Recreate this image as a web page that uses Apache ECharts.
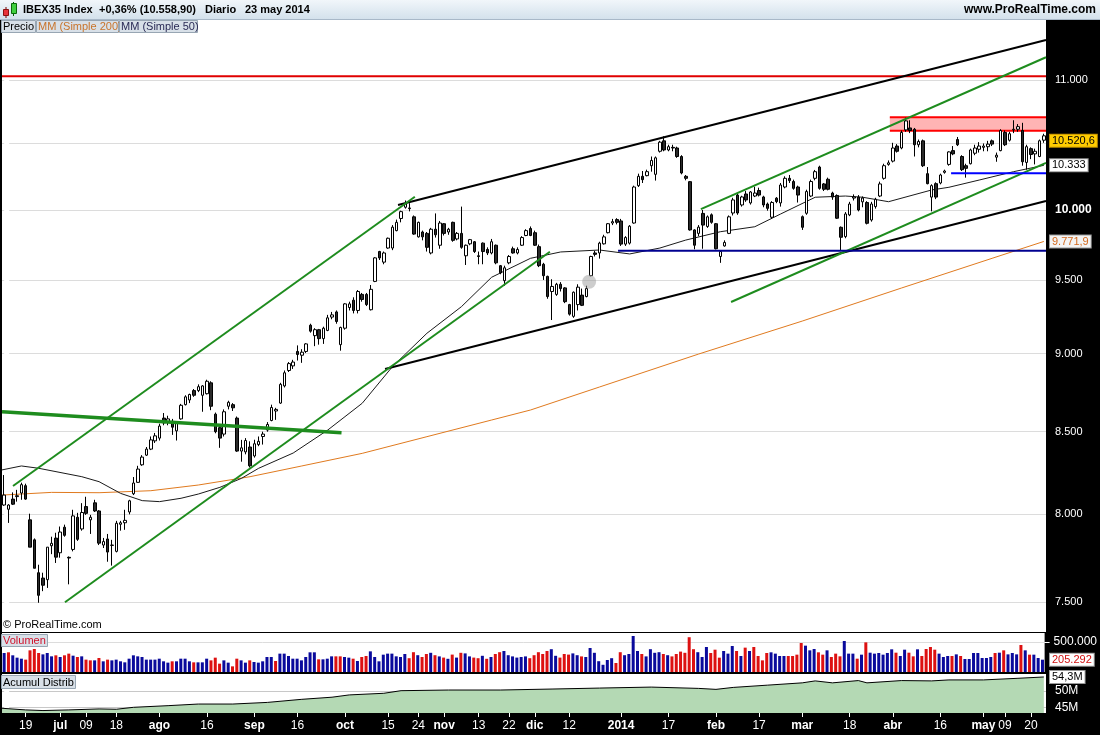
<!DOCTYPE html>
<html><head><meta charset="utf-8">
<script src="https://cdn.jsdelivr.net/npm/echarts@6/dist/echarts.min.js"></script>
<style>html,body{margin:0;padding:0;background:#fff}#c{width:1100px;height:735px}</style>
</head><body><div id="c"></div>
<script>
// ---------- categories: trading days 12 jun 2013 .. 23 may 2014 ----------
const holidays = ['2013-12-25','2013-12-26','2014-01-01','2014-04-18','2014-04-21','2014-05-01'];
const dates = [];
for (let t = Date.UTC(2013,5,12); t <= Date.UTC(2014,4,23); t += 86400000) {
  const d = new Date(t), wd = d.getUTCDay(), s = d.toISOString().slice(0,10);
  if (wd === 0 || wd === 6 || holidays.includes(s)) continue;
  dates.push(s);
}
// ---------- price data (IBEX35 daily) ----------
const openP = [8055,8030,8090,8105,8126,8170,7968,7852,7665,7635,
7626,7818,7862,7778,7925,7752,7797,7983,7915,8046,
7968,8068,8020,7822,7857,7820,7786,7942,7951,8014,
8122,8190,8296,8355,8392,8443,8460,8585,8560,8565,
8505,8580,8670,8700,8760,8760,8730,8740,8810,8610,
8525,8485,8660,8670,8585,8380,8375,8405,8350,8420,
8470,8510,8570,8630,8680,8790,8890,8920,9015,8990,
9015,9190,9120,9160,9100,9155,9245,9280,9060,9170,
9310,9360,9290,9400,9400,9295,9490,9700,9625,9725,
9725,9850,9938,10020,10010,9950,9805,9840,9830,9690,
9860,9745,9900,9840,9910,9790,9830,9670,9755,9770,
9670,9760,9715,9690,9745,9600,9495,9620,9720,9690,
9745,9815,9865,9835,9735,9610,9525,9420,9400,9470,
9445,9330,9250,9330,9395,9385,9530,9690,9690,9755,
9835,9905,9930,9920,9753,9760,9905,10180,10250,10255,
10330,10265,10440,10520,10450,10470,10465,10400,10250,10210,
9855,9830,9975,9880,9965,9900,9665,9740,9830,9978,
10110,10037,10118,10052,10103,10144,10096,10044,9947,10087,
10052,10170,10235,10211,10170,9951,9976,10103,10235,10320,
10193,10228,10125,10107,9874,9807,9964,10088,10095,10060,
10055,9927,10025,10103,10235,10340,10365,10480,10465,10605,
10620,10610,10490,10520,10270,10095,10195,10200,10280,10340,
10445,10530,10400,10330,10345,10425,10455,10470,10475,10520,
10395,10445,10585,10525,10605,10610,10600,10355,10460,10420,
10400,10525];
const highP = [8234,8060,8130,8145,8188,8182,8004,7860,7710,7665,
7810,7870,7893,7929,7940,7757,8027,8009,8066,8104,
7997,8086,8025,7863,7886,7852,7962,7962,8027,8086,
8222,8290,8355,8405,8470,8492,8550,8617,8600,8580,
8565,8675,8730,8740,8770,8800,8795,8830,8820,8620,
8540,8640,8695,8680,8595,8449,8460,8440,8450,8470,
8500,8560,8670,8650,8810,8890,8945,8960,9055,9030,
9070,9200,9170,9165,9180,9260,9280,9290,9180,9340,
9350,9380,9430,9410,9410,9465,9660,9705,9700,9800,
9890,9930,9995,10070,10050,9960,9915,9850,9840,9870,
9975,9920,9905,9870,9915,9840,10025,9750,9790,9775,
9700,9765,9730,9790,9750,9605,9600,9675,9735,9730,
9810,9860,9880,9850,9750,9620,9530,9505,9480,9485,
9450,9335,9420,9470,9440,9460,9670,9705,9770,9820,
9905,9935,9940,9935,9810,9890,10180,10270,10290,10300,
10400,10400,10520,10555,10490,10490,10475,10410,10260,10215,
9860,9890,10000,9960,9975,9905,9710,9780,9960,10090,
10125,10105,10140,10140,10172,10165,10105,10055,10065,10095,
10200,10250,10260,10225,10180,9960,10150,10225,10298,10330,
10200,10240,10135,10115,9880,9985,10060,10115,10110,10100,
10065,10060,10090,10210,10345,10370,10505,10495,10600,10700,
10680,10620,10530,10530,10320,10190,10205,10270,10300,10440,
10480,10550,10410,10345,10460,10490,10510,10500,10520,10530,
10430,10610,10600,10590,10680,10650,10660,10490,10470,10460,
10530,10575];
const lowP = [8050,7950,8055,8075,8086,8086,7810,7690,7498,7562,
7580,7770,7720,7750,7870,7600,7786,7846,7905,7997,
7886,8014,7822,7805,7727,7705,7780,7905,7910,8000,
8114,8188,8290,8350,8386,8430,8445,8540,8540,8480,
8445,8575,8665,8680,8720,8750,8625,8735,8635,8490,
8400,8470,8640,8630,8375,8315,8360,8280,8340,8410,
8420,8500,8565,8574,8675,8780,8880,8900,8955,8940,
9005,9140,9050,9060,9065,9150,9230,9200,9020,9160,
9290,9270,9270,9350,9320,9290,9485,9640,9610,9720,
9710,9845,9910,10010,9990,9820,9800,9780,9700,9680,
9800,9720,9815,9820,9770,9780,9720,9605,9745,9690,
9610,9610,9675,9680,9610,9540,9460,9610,9685,9680,
9740,9810,9810,9740,9590,9500,9370,9225,9390,9420,
9340,9255,9240,9290,9320,9380,9525,9665,9650,9750,
9830,9890,9895,9740,9740,9750,9900,10170,10200,10250,
10285,10218,10430,10440,10440,10440,10390,10265,10220,9850,
9716,9810,9720,9870,9900,9715,9620,9735,9825,9960,
9965,10025,10060,10040,10095,10100,10020,9995,9935,10050,
10025,10160,10200,10150,10055,9855,9965,10095,10220,10150,
10140,10145,10075,9935,9711,9795,9955,10070,9990,10020,
9895,9915,10010,10095,10225,10330,10355,10430,10455,10590,
10580,10400,10470,10320,10190,9990,10080,10190,10270,10330,
10410,10480,10290,10240,10340,10410,10430,10440,10440,10480,
10360,10440,10480,10515,10580,10590,10330,10300,10380,10340,
10395,10505];
const closeP = [8114,8055,8060,8110,8176,8090,7810,7690,7539,7595,
7810,7832,7753,7897,7878,7748,7991,7855,8011,8006,
7983,8020,7833,7842,7782,7822,7948,7951,7965,8080,
8186,8270,8343,8392,8449,8474,8535,8555,8580,8528,
8557,8666,8720,8735,8730,8785,8790,8820,8660,8500,
8460,8625,8685,8650,8380,8400,8445,8290,8425,8440,
8485,8545,8652,8640,8800,8875,8935,8945,8995,9010,
9065,9150,9160,9100,9170,9240,9260,9215,9175,9335,
9335,9290,9420,9365,9330,9435,9655,9655,9690,9795,
9875,9910,9988,10045,10015,9825,9910,9805,9730,9860,
9820,9905,9830,9860,9780,9830,9730,9745,9785,9700,
9665,9700,9690,9770,9620,9550,9585,9665,9690,9715,
9800,9850,9815,9745,9600,9530,9385,9455,9470,9440,
9350,9265,9415,9450,9325,9440,9665,9680,9760,9805,
9900,9915,9910,9753,9800,9882,10170,10250,10225,10285,
10370,10390,10510,10450,10475,10465,10400,10275,10235,9855,
9745,9875,9890,9950,9910,9720,9700,9765,9950,10074,
9978,10096,10074,10133,10125,10110,10037,10012,10055,10062,
10185,10235,10218,10160,10110,9874,10136,10211,10285,10160,
10153,10153,10095,9940,9802,9971,10044,10096,10000,10088,
9903,10044,10079,10193,10330,10352,10465,10440,10585,10675,
10600,10490,10515,10330,10195,10180,10095,10260,10290,10435,
10420,10490,10300,10310,10450,10465,10480,10480,10495,10495,
10410,10600,10490,10575,10610,10630,10360,10475,10415,10440,
10520.6,10558.9];
// volume, thousands of contracts
const volK = [317,328,278,239,222,206,361,383,317,294,
317,261,278,250,278,306,272,250,261,206,
194,194,233,178,206,194,206,178,161,222,
278,261,250,206,206,206,222,178,156,178,
178,222,222,178,161,161,161,222,194,239,
139,194,156,94,222,194,156,194,167,156,
178,250,250,183,306,306,267,222,222,194,
250,328,328,211,211,222,261,261,261,250,
239,222,183,250,267,344,250,178,289,306,
306,261,250,300,230,330,280,250,300,320,
280,260,240,220,290,240,320,310,260,240,
230,270,220,250,300,330,350,280,260,240,
250,260,230,280,330,300,350,380,270,240,
300,290,310,280,260,250,400,320,180,120,
200,230,150,330,280,300,600,350,300,260,
380,320,330,300,280,260,300,340,320,580,
380,330,250,417,317,372,239,350,306,433,
350,267,406,350,417,267,194,317,328,306,
267,267,267,267,289,483,439,361,383,328,
289,361,250,306,261,517,306,306,222,289,
494,322,306,317,289,317,378,322,267,372,
322,261,378,267,383,417,372,306,250,267,
267,294,267,217,217,317,317,233,233,250,
317,322,361,294,317,294,450,361,289,289,
233,205.292];
// moving averages (bar index, value)
const ma200Idx = [-0.5,11,22,34,45,57,69,83,98,113,122,138,161,185,208,229,241];
const ma200Val = [8114,8130,8128,8140,8174,8224,8289,8366,8469,8573,8636,8783,8998,9218,9444,9652,9772];
const ma50Idx = [-0.5,4,8,18,22,27,32,36,41,45,50,55,59,67,75,83,90,98,106,113,122,129,138,145,152,158,166,174,180,188,195,199,205,215,219,226,234,241];
const ma50Val = [8265,8289,8275,8224,8194,8124,8081,8075,8095,8120,8160,8214,8275,8368,8510,8679,8915,9136,9316,9519,9652,9697,9711,9683,9725,9782,9842,9878,9971,10094,10103,10094,10061,10148,10168,10222,10285,10333];
// accumulation / distribution (millions)
const adIdx = [-0.5,5,9,15,22,26,30,38,45,53,61,69,76,80,88,92,103,115,127,138,150,161,165,169,177,185,188,192,198,200,208,215,219,227,235,241];
const adVal = [44.7,44.2,44.0,44.2,44.5,44.4,45.0,45.5,46.0,46.0,46.5,47.45,48.1,48.8,49.3,50.1,50.3,50.3,50.6,50.9,51.2,50.8,50.5,51.1,51.8,52.5,53.1,52.5,53.2,52.5,53.2,53.1,53.4,53.4,53.9,54.3];
// drawn lines (bar index, price)
const blackUpper = [[91.3,10037],[241.5,11327]];
const blackLower = [[88.3,8900],[241.5,10066]];
const greenUpLeft = [[2.05,8168],[95.2,10098]];
const greenLowLeft = [[14.1,7501],[126.5,9699]];
const greenThick = [[-0.5,8625],[78.2,8494]];
const greenUpRight = [[161.5,10007],[241.5,11185]];
const greenLowRight = [[168.5,9348],[241.5,10351]];
const navyLine = [[142.3,9705],[241.5,9705]];
const blueLine = [[219.5,10273],[241.5,10273]];
const redLine = [[-0.5,11030],[241.5,11030]];
const redZoneX = [205.3,241.5];
const redZoneP = [10599,10703];
const greyDot = [135.6,9488];
// axis ticks and labels
const priceTicks = [7500,8000,8500,9000,9500,10000,10500,11000];
const volTicks = [500000];
const adTicks = [45,50];
const xLabelIdx = [5,13,19,26,36,47,58,68,79,89,96,102,110,117,123,131,143,154,165,175,185,196,206,217,227,232,238];
const xLabelTxt = ['19','jul','09','18','ago','16','sep','16','oct','15','24','nov','13','22','dic','12','2014','17','feb','17','mar','18','abr','16','may','09','20'];
const lastPrice = 10520.6, lastMa50 = 10333, lastMa200 = 9771.9, lastVol = 205292, lastAd = 54.3;

// ---------- chart ----------
const L = Math.log;
const FONT = 'Liberation Sans, Arial, sans-serif';
const fmt = n => String(n).replace(/\B(?=(\d{3})+(?!\d))/g, '.');
const chart = echarts.init(document.getElementById('c'));
const N = dates.length;
const seg = (pts, color, width, z) => ({
  type:'line', xAxisIndex:3, yAxisIndex:0, data: pts.map(p => [p[0], L(p[1])]),
  symbol:'none', silent:true, z: z || 6, lineStyle:{color, width}, animation:false
});
const labelSet = new Set(xLabelIdx);
const monthRe = /^[a-z]+$|^2014$/;

const option = {
  animation:false,
  backgroundColor:'#000',
  textStyle:{fontFamily:FONT},
  grid:[
    {left:2, right:54, top:20, height:612, show:true, backgroundColor:'#fff', borderWidth:0},
    {left:2, right:54, top:633, height:39, show:true, backgroundColor:'#fff', borderWidth:0},
    {left:2, right:54, top:674, height:39, show:true, backgroundColor:'#fff', borderWidth:0}
  ],
  xAxis:[
    {type:'category', gridIndex:0, data:dates, show:false},
    {type:'category', gridIndex:1, data:dates, show:false},
    {type:'category', gridIndex:2, data:dates, position:'bottom',
      axisLine:{show:false},
      axisTick:{show:true, alignWithLabel:true, length:4, interval:(i)=>labelSet.has(i), lineStyle:{color:'#fff'}},
      axisLabel:{interval:(i)=>labelSet.has(i), margin:7, color:'#fff', fontSize:12, fontFamily:FONT,
        formatter:(v,i)=>{const k=xLabelIdx.indexOf(i); if(k<0) return ''; const t=xLabelTxt[k]; return monthRe.test(t)?'{b|'+t+'}':t;},
        rich:{b:{fontWeight:'bold', color:'#fff', fontSize:12, fontFamily:FONT}}}},
    {type:'value', gridIndex:0, min:-0.5, max:N-0.5, show:false},
    {type:'value', gridIndex:2, min:-0.5, max:N-0.5, show:false}
  ],
  yAxis:[
    {type:'value', gridIndex:0, position:'right', min:L(10000)-(632-210)/1364, max:L(10000)+(210-20)/1364,
      axisLine:{show:false},
      axisTick:{show:true, customValues:priceTicks.map(L), length:5, lineStyle:{color:'#fff'}},
      axisLabel:{customValues:priceTicks.map(L), margin:9, color:'#fff', fontSize:11, fontFamily:FONT,
        formatter:v=>{const p=Math.round(Math.exp(v)); return p===10000?'{b|'+fmt(p)+'}':fmt(p);},
        rich:{b:{fontWeight:'bold', color:'#fff', fontSize:12, fontFamily:FONT}}},
      splitLine:{show:true, lineStyle:{color:'#dcdcdc', width:1}}},
    {type:'value', gridIndex:1, position:'right', min:0, max:650000,
      axisLine:{show:false},
      axisTick:{show:true, customValues:volTicks, length:5, lineStyle:{color:'#fff'}},
      axisLabel:{customValues:volTicks, margin:9, color:'#fff', fontSize:12, fontFamily:FONT, formatter:v=>fmt(v)},
      splitLine:{show:true, lineStyle:{color:'#dcdcdc'}}},
    {type:'value', gridIndex:2, position:'right', min:50-22/3.26, max:50+17/3.26,
      axisLine:{show:false},
      axisTick:{show:true, customValues:adTicks, length:5, lineStyle:{color:'#fff'}},
      axisLabel:{customValues:adTicks, margin:9, color:'#fff', fontSize:12, fontFamily:FONT, formatter:v=>v+'M'},
      splitLine:{show:true, lineStyle:{color:'#c8c8c8'}}}
  ],
  series:[
    {type:'line', xAxisIndex:3, yAxisIndex:0, data:[], silent:true,
      markArea:{silent:true, itemStyle:{color:'#ffb4b4'},
        data:[[{coord:[redZoneX[0], L(redZoneP[1])]},{coord:[redZoneX[1], L(redZoneP[0])]}]]}},
    seg([[redZoneX[0],redZoneP[1]],[redZoneX[1],redZoneP[1]]], '#ff0000', 2, 3),
    seg([[redZoneX[0],redZoneP[0]],[redZoneX[1],redZoneP[0]]], '#ff0000', 2, 3),
    {type:'line', xAxisIndex:3, yAxisIndex:0, data:ma200Idx.map((x,i)=>[x, L(ma200Val[i])]),
      symbol:'none', silent:true, z:3, lineStyle:{color:'#e07a1f', width:1}},
    {type:'line', xAxisIndex:3, yAxisIndex:0, data:ma50Idx.map((x,i)=>[x, L(ma50Val[i])]),
      symbol:'none', silent:true, z:3, lineStyle:{color:'#1a1a1a', width:1}},
    {type:'candlestick', xAxisIndex:0, yAxisIndex:0, barWidth:3, z:4,
      data: openP.map((o,i)=>[L(o), L(closeP[i]), L(lowP[i]), L(highP[i])]),
      itemStyle:{color:'#ffffff', color0:'#2a2a2a', borderColor:'#000', borderColor0:'#000', borderWidth:1}},
    seg(redLine, '#e00000', 2),
    seg(blackUpper, '#000000', 2),
    seg(blackLower, '#000000', 2),
    seg(greenUpLeft, '#1e8c1e', 2),
    seg(greenLowLeft, '#1e8c1e', 2),
    seg(greenThick, '#1e8c1e', 3.5),
    seg(greenUpRight, '#1e8c1e', 2),
    seg(greenLowRight, '#1e8c1e', 2),
    seg(navyLine, '#000090', 2),
    seg(blueLine, '#0000ff', 2),
    {type:'scatter', xAxisIndex:3, yAxisIndex:0, data:[[greyDot[0], L(greyDot[1])]], symbolSize:14,
      itemStyle:{color:'rgba(150,150,150,0.6)'}, silent:true, z:7},
    {type:'bar', xAxisIndex:1, yAxisIndex:1, barWidth:3,
      data: volK.map((v,i)=>({value:v*1000, itemStyle:{color: (i===0 || closeP[i]>=closeP[i-1]) ? '#0a0a9c' : '#dd1111'}}))},
    {type:'line', xAxisIndex:4, yAxisIndex:2, data:adIdx.map((x,i)=>[x, adVal[i]]), symbol:'none', silent:true,
      lineStyle:{color:'#000', width:1}, areaStyle:{color:'#b4d9b4', opacity:1, origin:'start'}}
  ]
};
chart.setOption(option);

// ---------- decorations positioned through the axes ----------
const py = v => chart.convertToPixel({yAxisIndex:0}, L(v));
const pv = v => chart.convertToPixel({yAxisIndex:1}, v);
const pa = v => chart.convertToPixel({yAxisIndex:2}, v);
const box = (y, text, fill, bg, border) => ({type:'text', x:1050, y:y, z:100,
  style:{text, fill, font:'11px '+FONT, backgroundColor:bg, borderColor:border, borderWidth:1, padding:[1,2,0,2], verticalAlign:'middle'}});
const tag = (x, y, w, h, text, color) => ({type:'group', z:60, children:[
  {type:'rect', shape:{x:x+0.5, y:y+0.5, width:w, height:h}, style:{fill:'#d8e0e8', stroke:'#98a6b3', lineWidth:1}},
  {type:'text', x:x+2, y:y+h/2+1, style:{text, fill:color, font:'11px '+FONT, verticalAlign:'middle'}}]});
const hdrGrad = new echarts.graphic.LinearGradient(0,0,0,1,[{offset:0,color:'#f1f6fa'},{offset:1,color:'#d2e0eb'}]);
const hdrFont = 'bold 11px '+FONT;
chart.setOption({graphic:[
  {type:'rect', z:50, shape:{x:0,y:0,width:1100,height:20}, style:{fill:hdrGrad}},
  {type:'line', z:51, shape:{x1:0,y1:19.5,x2:1100,y2:19.5}, style:{stroke:'#a8b8c8', lineWidth:1}},
  {type:'line', z:52, shape:{x1:6,y1:7,x2:6,y2:18}, style:{stroke:'#700', lineWidth:1}},
  {type:'rect', z:53, shape:{x:3.5,y:9.5,width:5,height:6}, style:{fill:'#e8323a', stroke:'#8a1010', lineWidth:1}},
  {type:'line', z:52, shape:{x1:13.5,y1:2,x2:13.5,y2:16}, style:{stroke:'#060', lineWidth:1}},
  {type:'rect', z:53, shape:{x:11.5,y:3.5,width:5,height:10}, style:{fill:'#3fcf3f', stroke:'#0a6a0a', lineWidth:1}},
  {type:'text', z:54, x:23, y:10, style:{text:'IBEX35 Index', fill:'#000', font:hdrFont, verticalAlign:'middle'}},
  {type:'text', z:54, x:99, y:10, style:{text:'+0,36% (10.558,90)', fill:'#000', font:hdrFont, verticalAlign:'middle'}},
  {type:'text', z:54, x:205, y:10, style:{text:'Diario', fill:'#000', font:hdrFont, verticalAlign:'middle'}},
  {type:'text', z:54, x:245, y:10, style:{text:'23 may 2014', fill:'#000', font:hdrFont, verticalAlign:'middle'}},
  {type:'text', z:54, x:1096, y:10, style:{text:'www.ProRealTime.com', fill:'#000', font:'bold 12px '+FONT, align:'right', verticalAlign:'middle'}},
  tag(1,20,34,12,'Precio','#000'),
  tag(36,20,82,12,'MM (Simple 200)','#c8742c'),
  tag(119,20,78,12,'MM (Simple 50)','#2a2a55'),
  tag(1,634,46,12,'Volumen','#d0102a'),
  tag(1,675,74,13,'Acumul Distrib','#000'),
  {type:'text', z:54, x:3, y:625, style:{text:'\u00a9 ProRealTime.com', fill:'#000', font:'11px '+FONT, verticalAlign:'middle'}},
  box(py(lastPrice), '10.520,6', '#000', '#ffcc00', '#c09000'),
  box(py(lastMa50), '10.333', '#000', '#ffffff', '#999'),
  box(py(lastMa200), '9.771,9', '#d2691e', '#f4f4f4', '#999'),
  box(pv(lastVol), '205.292', '#d01010', '#ffffff', '#999'),
  box(pa(lastAd), '54,3M', '#000', '#ffffff', '#999')
]});
</script></body></html>
